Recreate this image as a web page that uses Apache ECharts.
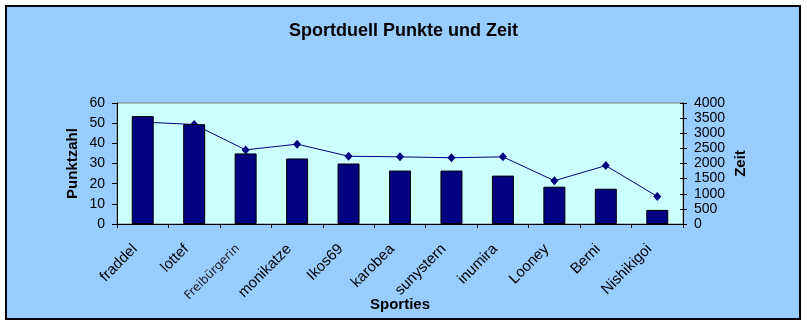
<!DOCTYPE html>
<html><head><meta charset="utf-8">
<script src="https://cdn.jsdelivr.net/npm/echarts@6/dist/echarts.min.js"></script>
<style>html,body{margin:0;padding:0;background:#fff}#c{width:807px;height:326px}</style>
</head><body><div id="c"></div>
<script>
const categories = ['fraddel','lottef','Freibürgerin','monikatze','Ikos69','karobea','sunystern','inumira','Looney','Berni','Nishikigoi'];
const punkte = [53.5,49.5,35,32.5,30,26.5,26.5,24,18.5,17.5,7];
const zeit = [3370,3290,2450,2640,2240,2220,2190,2220,1430,1930,910];
const punkteAxis = {min:0, max:60, interval:10};
const zeitAxis = {min:0, max:4000, interval:500};
const titleText = 'Sportduell Punkte und Zeit';
const xName = 'Sporties', yLeftName = 'Punktzahl', yRightName = 'Zeit';

const FONT = 'Liberation Sans, Arial, sans-serif';
const chart = echarts.init(document.getElementById('c'), null, {renderer:'canvas'});
chart.setOption({
  backgroundColor: '#ffffff',
  animation: false,
  graphic: [{
    type: 'rect', z: -10, silent: true,
    shape: {x: 6, y: 6, width: 794, height: 313},
    style: {fill: '#99CCFF', stroke: '#000000', lineWidth: 2}
  }],
  title: {
    text: titleText, left: 'center', top: 17,
    textStyle: {fontFamily: FONT, fontSize: 18, fontWeight: 'bold', color: '#000'}
  },
  grid: {
    left: 117, right: 124, top: 103, height: 121,
    show: true, backgroundColor: '#CCFFFF', borderColor: '#808080', borderWidth: 1
  },
  xAxis: {
    type: 'category', data: categories,
    name: xName, nameLocation: 'middle', nameGap: 73, nameMoveOverlap: false,
    nameTextStyle: {fontFamily: FONT, fontSize: 15, fontWeight: 'bold', color: '#000'},
    axisLine: {lineStyle: {color: '#000', width: 1}},
    axisTick: {show: true, length: 4, alignWithLabel: false, lineStyle: {color: '#000'}},
    axisLabel: {
      interval: 0, rotate: 45, margin: 15, padding: [0, 11, 0, 0],
      fontFamily: FONT, fontSize: 15, color: '#000',
      formatter: function (v) { return v === 'Freibürgerin' ? '{thin|' + v + '}' : v; },
      rich: {thin: {fontFamily: 'DejaVu Sans, sans-serif', fontSize: 12, color: '#1a1a1a', fontWeight: 'normal'}}
    },
    splitLine: {show: false}
  },
  yAxis: [{
    type: 'value', position: 'left',
    min: punkteAxis.min, max: punkteAxis.max, interval: punkteAxis.interval,
    name: yLeftName, nameLocation: 'middle', nameGap: 37, nameRotate: 90, nameMoveOverlap: false,
    nameTextStyle: {fontFamily: FONT, fontSize: 15, fontWeight: 'bold', color: '#000'},
    axisLine: {show: true, lineStyle: {color: '#000'}},
    axisTick: {show: true, length: 5, lineStyle: {color: '#000'}},
    axisLabel: {margin: 12, fontFamily: FONT, fontSize: 14, color: '#000'},
    splitLine: {show: false}
  }, {
    type: 'value', position: 'right',
    min: zeitAxis.min, max: zeitAxis.max, interval: zeitAxis.interval,
    name: yRightName, nameLocation: 'middle', nameGap: 50, nameRotate: 90, nameMoveOverlap: false,
    nameTextStyle: {fontFamily: FONT, fontSize: 15, fontWeight: 'bold', color: '#000'},
    axisLine: {show: true, lineStyle: {color: '#000'}},
    axisTick: {show: true, length: 4, lineStyle: {color: '#000'}},
    axisLabel: {margin: 11, fontFamily: FONT, fontSize: 14, color: '#000',
      formatter: function (v) { return String(v); }},
    splitLine: {show: false}
  }, {
    type: 'value', position: 'right',
    min: zeitAxis.min, max: zeitAxis.max, interval: zeitAxis.interval,
    axisLine: {show: false},
    axisTick: {show: true, inside: true, length: 3, lineStyle: {color: '#000'}},
    axisLabel: {show: false},
    splitLine: {show: false}
  }],
  series: [{
    type: 'line', yAxisIndex: 1, data: zeit, z: 2,
    symbol: 'diamond', symbolSize: [8, 9], showSymbol: true,
    lineStyle: {color: '#000080', width: 1},
    itemStyle: {color: '#000080'}
  }, {
    type: 'bar', yAxisIndex: 0, data: punkte, z: 3, barWidth: 22,
    itemStyle: {color: '#000080', borderColor: '#000000', borderWidth: 1}
  }]
});
</script></body></html>
